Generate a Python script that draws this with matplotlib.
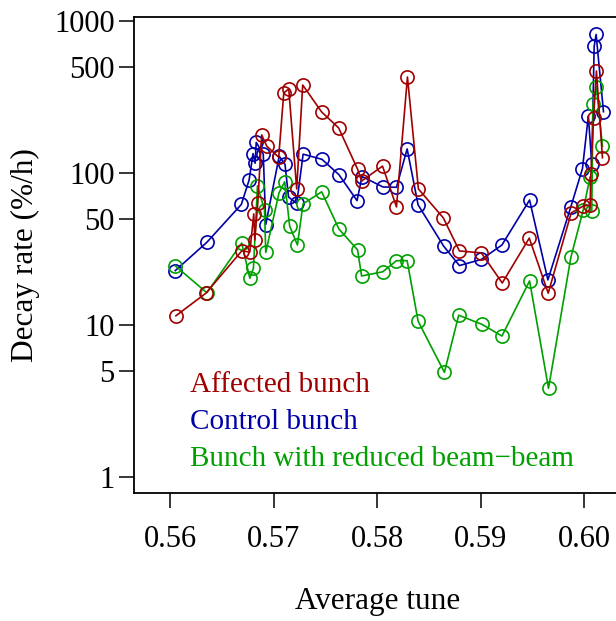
import matplotlib
matplotlib.use("Agg")
import matplotlib.pyplot as plt
from matplotlib.ticker import FixedLocator, NullLocator, FuncFormatter

# ── data ────────────────────────────────────────────────────────────────────
affected_tune = [0.56055, 0.56345, 0.56691, 0.56769, 0.56807, 0.56817, 0.56846,
                 0.56884, 0.56933, 0.57048, 0.57097, 0.57145, 0.57222, 0.57280,
                 0.57463, 0.57627, 0.57810, 0.57849, 0.58051, 0.58186, 0.58292,
                 0.58398, 0.58639, 0.58794, 0.59006, 0.59208, 0.59469, 0.59652,
                 0.59874, 0.59990, 0.60057, 0.60064, 0.60090, 0.60118, 0.60176]
affected_rate = [11.5, 16.2, 30.7, 30.2, 53.8, 36.2, 63.5,
                 178, 150, 127, 336, 357, 78.5, 379,
                 252, 198, 106, 88.5, 111, 59.8, 428,
                 78.5, 50.6, 30.7, 29.8, 18.9, 37.3, 16.2,
                 54.6, 60.6, 61.5, 98.5, 230, 469, 126]

control_tune = [0.56049, 0.56354, 0.56687, 0.56762, 0.56800, 0.56820, 0.56831,
                0.56899, 0.56923, 0.57053, 0.57109, 0.57143, 0.57222, 0.57284,
                0.57466, 0.57630, 0.57805, 0.57853, 0.58056, 0.58186, 0.58289,
                0.58395, 0.58642, 0.58794, 0.59006, 0.59205, 0.59472, 0.59649,
                0.59871, 0.59983, 0.60040, 0.60073, 0.60096, 0.60115, 0.60186]
control_rate = [22.8, 35.0, 62.1, 89.8, 134, 116, 159,
                133, 45.8, 129, 114, 69.5, 63, 133,
                123, 97.5, 65.8, 94.8, 80.9, 80.5, 144,
                61.7, 33.0, 24.6, 27.0, 33.6, 66.4, 19.8,
                60, 107, 237, 114, 680, 815, 253]

reduced_tune = [0.56049, 0.56354, 0.56691, 0.56769, 0.56804, 0.56843, 0.56911,
                0.56923, 0.57051, 0.57106, 0.57154, 0.57229, 0.57283, 0.57463,
                0.57630, 0.57810, 0.57849, 0.58054, 0.58186, 0.58289, 0.58395,
                0.58649, 0.58787, 0.59012, 0.59205, 0.59472, 0.59655, 0.59871,
                0.59990, 0.60057, 0.60073, 0.60085, 0.60118, 0.60176]
reduced_rate = [24.5, 16.3, 34.6, 20.3, 23.6, 82.4, 57,
                30.0, 74, 87.5, 44.7, 33.6, 62.6, 75.2,
                42.8, 31.2, 21.0, 22.4, 26.5, 26.5, 10.6,
                4.88, 11.6, 10.1, 8.46, 19.5, 3.83, 27.9,
                57, 94.5, 56.5, 283, 369, 150]

x_ticks = [0.56, 0.57, 0.58, 0.59, 0.60]
y_ticks = [1, 5, 10, 50, 100, 500, 1000]

RED, BLUE, GREEN = '#A00000', '#0000A8', '#00A000'
series = [
    ('Affected bunch', affected_tune, affected_rate, RED),
    ('Control bunch', control_tune, control_rate, BLUE),
    ('Bunch with reduced beam\u2212beam', reduced_tune, reduced_rate, GREEN),
]

plt.rcParams['font.family'] = ['Liberation Serif', 'DejaVu Serif']
plt.rcParams['font.size'] = 22

fig = plt.figure(figsize=(6.16, 6.21), dpi=100)
ax = fig.add_axes([134 / 616, 128 / 621, 488 / 616, 476 / 621])

# draw control and reduced first, affected on top
for idx in (1, 2, 0):
    label, xs, ys, col = series[idx]
    ax.plot(xs, ys, '-o', color=col, lw=1.2, ms=9.5, mfc='none', mew=1.2,
            label=label)

ax.set_yscale('log')
ax.set_xlim(0.5565, 0.60365)
ax.set_ylim(0.785, 1062)

ax.xaxis.set_major_locator(FixedLocator(x_ticks))
ax.xaxis.set_major_formatter(FuncFormatter(lambda v, p: f'{v:.2f}'))
ax.yaxis.set_major_locator(FixedLocator(y_ticks))
ax.yaxis.set_major_formatter(FuncFormatter(lambda v, p: f'{v:g}'))
ax.yaxis.set_minor_locator(NullLocator())
ax.tick_params(axis='both', which='major', length=11, width=1.1,
               direction='out', labelsize=22)
ax.tick_params(axis='x', pad=12)
ax.tick_params(axis='y', pad=3)
for sp in ax.spines.values():
    sp.set_linewidth(1.3)

ax.set_xlabel('Average tune', fontsize=22.5, labelpad=24)
ax.set_ylabel('Decay rate (%/h)', fontsize=22.5, labelpad=10)

# coloured text legend, no symbols
for k, (label, _, _, col) in enumerate(series):
    ax.text(0.115, 0.227 - k * 0.0777, label, color=col, fontsize=21,
            transform=ax.transAxes, ha='left', va='center')

fig.savefig('out.png', dpi=100)
